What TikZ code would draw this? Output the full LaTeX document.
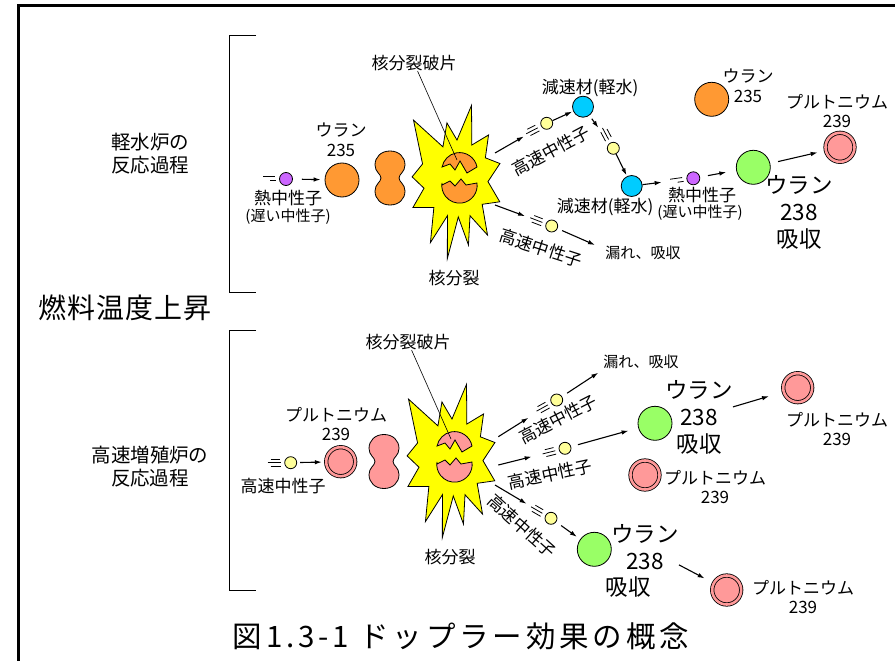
\documentclass[tikz,border=0pt]{standalone}
\usepackage{fontspec}
\setmainfont{Noto Sans CJK JP}
\usetikzlibrary{arrows.meta}

\definecolor{uorange}{HTML}{FF9933}
\definecolor{ugreen}{HTML}{99FF66}
\definecolor{pupink}{HTML}{FF9999}
\definecolor{wcyan}{HTML}{00CCFF}
\definecolor{nyellow}{HTML}{FFFF99}
\definecolor{npurple}{HTML}{CC66FF}
\definecolor{flash}{HTML}{FFFF00}

% explosion with the two fission fragments, drawn around (0,0)
\newcommand{\burst}[1]{%
  \filldraw[fill=flash, line width=0.8pt, line join=miter]
    (-126:74) -- (-113:36) -- (-100:58) -- (-90:40) -- (-79:76) -- (-67:38)
    -- (-55:55) -- (-38:36) -- (-21:46) -- (3:31) -- (27:48) -- (44:35)
    -- (61:63) -- (70:38) -- (80:66) -- (88:37) -- (97:79) -- (105:37)
    -- (113:68) -- (130:36) -- (148:52) -- (166:34) -- (184:45) -- (205:38)
    -- cycle;
  % upper fragment
  \filldraw[fill=#1, line width=0.8pt]
    (20,-13) arc[start angle=-11, end angle=-169, radius=17.8]
    -- (-7,-16) -- (-2,-10) -- (3,-19) -- (10,-7) -- cycle;
  % lower fragment
  \filldraw[fill=#1, line width=0.8pt]
    (-15,5) -- (-7,1) -- (-2,6) -- (4,-1) -- (9,5) -- (20,3)
    arc[start angle=-8, end angle=188, radius=17.7] -- cycle;
}

% nucleus stretched just before splitting
\newcommand{\peanut}[1]{%
  \filldraw[fill=#1, line width=0.8pt]
    (0,-27) .. controls (9,-27) and (15,-21) .. (15,-13)
    .. controls (15,-6) and (9,-4) .. (9,0)
    .. controls (9,4) and (15,6) .. (15,13)
    .. controls (15,21) and (9,27) .. (0,27)
    .. controls (-9,27) and (-15,21) .. (-15,13)
    .. controls (-15,6) and (-9,4) .. (-9,0)
    .. controls (-9,-4) and (-15,-6) .. (-15,-13)
    .. controls (-15,-21) and (-9,-27) .. (0,-27) -- cycle;
}

% speed strokes behind a neutron: node, heading, 2 = slow / 3 = fast
\newcommand{\trail}[3]{%
  \begin{scope}[shift={(#1.center)}, rotate=#2]
    \ifnum#3=2
      \draw[streak] (-23,-2.3) -- (-11,-2.3);
      \draw[streak] (-16,1.7) -- (-10,1.7);
    \else
      \draw[streak] (-20,-3.5) -- (-11,-3.5);
      \draw[streak] (-23,0) -- (-10,0);
      \draw[streak] (-20,3.5) -- (-10,3.5);
    \fi
  \end{scope}
}

\begin{document}
\begin{tikzpicture}[x=1pt, y=-1pt,
    nucleus/.style={circle, draw, line width=0.8pt, inner sep=0pt},
    u235/.style={nucleus, fill=uorange, minimum size=34pt},
    u238/.style={nucleus, fill=ugreen, minimum size=34pt},
    pu239/.style={nucleus, fill=pupink, double=pupink, double distance=2.6pt, minimum size=29pt},
    water/.style={nucleus, fill=wcyan, minimum size=21pt},
    fastn/.style={nucleus, fill=nyellow, minimum size=12pt},
    slown/.style={nucleus, fill=npurple, minimum size=13pt},
    arr/.style={-{Latex[length=7pt,width=4.5pt]}, line width=1.1pt},
    streak/.style={line width=0.8pt},
    txt/.style={inner sep=0pt, align=center, font=\fontsize{17}{20}\selectfont},
    pulbl/.style={txt, font=\fontsize{17}{18.5}\selectfont},
    note/.style={inner sep=0pt, font=\fontsize{15}{17}\selectfont},
    big/.style={inner sep=0pt, align=center, font=\fontsize{22.5}{27}\selectfont},
    head/.style={inner sep=0pt, align=center, font=\fontsize{19.5}{23}\selectfont},
  ]
  \useasboundingbox (0,0) rectangle (895,661);

  % --- frame and brackets ---
  \draw[line width=3pt, line join=miter] (18,661) -- (18,5.5) -- (895,5.5);
  \draw[line width=0.8pt] (256,35) -- (229,35) -- (229,292) -- (256,292);
  \draw[line width=0.8pt] (256,330) -- (229,330) -- (229,590) -- (256,590);

  \node[head] (lwr) at (150,154) {軽水炉の\\反応過程};
  \node[head] (fbr) at (150,467) {高速増殖炉の\\反応過程};
  \node[inner sep=0pt, font=\fontsize{28}{30}\selectfont\addfontfeatures{LetterSpace=3}] (rise) at (125,308) {燃料温度上昇};
  \node[inner sep=0pt, font=\fontsize{29.5}{31}\selectfont\addfontfeatures{LetterSpace=13}] (cap) at (461,636) {図1.3-1 ドップラー効果の概念};

  % ================= light water reactor =================
  \begin{scope}[shift={(457,180)}]
    \burst{uorange}
  \end{scope}
  \begin{scope}[shift={(390,178)}]
    \peanut{uorange}
  \end{scope}
  \node[txt] (frag1) at (414,63) {核分裂破片};
  \coordinate (frag1end) at (457,160);
  \draw[line width=0.6pt] (frag1) -- (frag1end);
  \node[txt] (fis1) at (454,278) {核分裂};

  \node[slown] (t1) at (286,179) {};
  \node[u235] (u1) at (342,180) {};
  \node[txt] (u1t) at (341,140) {ウラン\\235};
  \node[txt] (t1t) at (288,198) {熱中性子};
  \node[note] (t1s) at (288,217) {(遅い中性子)};
  \trail{t1}{0}{2}
  \draw[arr, shorten <=9pt, shorten >=4pt] (t1) -- (u1);

  % fast neutron slowed down by the water
  \coordinate (s1) at (495,153);
  \node[fastn] (f1) at (546.7,123.3) {};
  \node[water] (m1) at (583,106.7) {};
  \node[fastn] (f2) at (613.3,148.3) {};
  \node[water] (m2) at (631.7,186) {};
  \node[slown] (t2) at (693.3,178.3) {};
  \node[u238] (g1) at (753.3,167.3) {};
  \node[pu239] (p1) at (840,147.3) {};
  \node[u235] (u2) at (711.7,99.3) {};
  \trail{f1}{27}{3}
  \trail{f2}{-62}{3}
  \trail{t2}{8}{2}
  \draw[arr, shorten >=20pt] (s1) -- (f1);
  \draw[arr, shorten >=1pt] (f1) -- (m1);
  \draw[arr, shorten <=4pt, shorten >=19pt] (m1) -- (f2);
  \draw[arr, shorten >=1pt] (f2) -- (m2);
  \draw[arr, shorten >=25pt] (m2) -- (t2);
  \draw[arr, shorten <=8pt, shorten >=10pt] (t2) -- (g1);
  \draw[arr, shorten <=8pt, shorten >=8pt] (g1) -- (p1);

  \node[txt, rotate=28] (f1t) at (551,151) {高速中性子};
  \node[txt] (m1t) at (590,88) {減速材(軽水)};
  \node[txt] (m2t) at (605,207) {減速材(軽水)};
  \node[txt] (t2t) at (702,195) {熱中性子};
  \node[note] (t2s) at (700,213) {(遅い中性子)};
  \node[txt] (u2t) at (748,86) {ウラン\\235};
  \node[pulbl] (p1t) at (837,111) {プルトニウム\\239};
  \node[big] (g1t) at (799,212) {ウラン\\238\\吸収};

  % fast neutron lost
  \coordinate (s2) at (495,205);
  \node[fastn] (f3) at (551.7,226) {};
  \coordinate (leak1) at (595,245);
  \trail{f3}{-21}{3}
  \draw[arr, shorten >=22pt] (s2) -- (f3);
  \draw[arr, shorten <=5pt] (f3) -- (leak1);
  \node[txt, rotate=-18] (f3t) at (541,248) {高速中性子};
  \node[note] (leak1t) at (643,253) {漏れ、吸収};

  % ================= fast breeder reactor =================
  \begin{scope}[shift={(452,459)}]
    \burst{pupink}
  \end{scope}
  \begin{scope}[shift={(384,461.5)}]
    \peanut{pupink}
  \end{scope}
  \node[txt] (frag2) at (408,342) {核分裂破片};
  \coordinate (frag2end) at (451,439);
  \draw[line width=0.6pt] (frag2) -- (frag2end);
  \node[txt] (fis2) at (450,557) {核分裂};

  \node[fastn] (bf0) at (290.7,462.7) {};
  \node[pu239] (p0) at (340.7,461.7) {};
  \node[pulbl] (p0t) at (336,424) {プルトニウム\\239};
  \node[txt] (bf0t) at (283,486) {高速中性子};
  \trail{bf0}{0}{3}
  \draw[arr, shorten <=3pt, shorten >=4pt] (bf0) -- (p0);

  % three fast neutrons leaving the fission
  \coordinate (s3) at (498.3,436.7);
  \coordinate (s4) at (498.3,465);
  \coordinate (s5) at (495,485);
  \node[fastn] (bf1) at (556.7,400) {};
  \node[fastn] (bf2) at (565,448.3) {};
  \node[fastn] (bf3) at (551,518.3) {};
  \coordinate (leak2) at (598.3,372.7);
  \node[u238] (g2) at (655,423.3) {};
  \node[u238] (g3) at (594.3,549.3) {};
  \node[pu239] (p2) at (797.7,387.7) {};
  \node[pu239] (p3) at (645,475) {};
  \node[pu239] (p4) at (726.7,590) {};
  \trail{bf1}{29}{3}
  \trail{bf2}{14}{3}
  \trail{bf3}{-30}{3}

  \node[note] (leak2t) at (641,362) {漏れ、吸収};
  \node[big] (g2t) at (699,417) {ウラン\\238\\吸収};
  \node[big] (g3t) at (645,547) {ウラン\\238};
  \node[big] (g3a) at (628,587) {吸収};
  \node[pulbl] (p2t) at (837,429) {プルトニウム\\239};
  \node[pulbl] (p3t) at (715,487) {プルトニウム\\239};
  \node[pulbl] (p4t) at (803,597) {プルトニウム\\239};

  \draw[arr, shorten >=27pt] (s3) -- (bf1);
  \draw[arr, shorten <=6pt] (bf1) -- (leak2);
  \draw[arr, shorten >=28pt] (s4) -- (bf2);
  \draw[arr, shorten <=7pt, shorten >=10pt] (bf2) -- (g2);
  \draw[arr, shorten >=15pt] (g2t) -- (p2);
  \draw[arr, shorten >=22pt] (s5) -- (bf3);
  \draw[arr, shorten <=6pt, shorten >=4pt] (bf3) -- (g3);
  \draw[arr, shorten >=10pt] (g3t) -- (p4);

  \node[txt, rotate=27] (bf1t) at (558,419) {高速中性子};
  \node[txt, rotate=12] (bf2t) at (550,474) {高速中性子};
  \node[txt, rotate=-42] (bf3t) at (522,526) {高速中性子};

\end{tikzpicture}
\end{document}
